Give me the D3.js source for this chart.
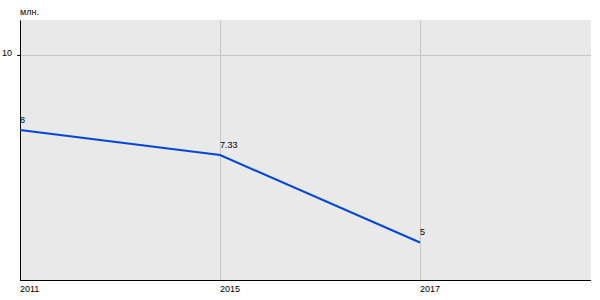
<!DOCTYPE html>
<html>
<head>
<meta charset="utf-8">
<script src="https://cdn.jsdelivr.net/npm/d3@7"></script>
<style>
  body { margin: 0; background: #fff; }
  text { font-family: "Liberation Sans", Arial, sans-serif; font-size: 9px; fill: #000; }
</style>
</head>
<body>
<svg id="chart"></svg>
<script>
const years = ["2011", "2015", "2017"];
const values = [8, 7.33, 5];
const valueLabels = ["8", "7.33", "5"];
const yTicks = [10];
const unitLabel = "млн.";

const width = 600;
const height = 300;
const margin = { top: 20, right: 9, bottom: 20, left: 20 };

const svg = d3.select("#chart").attr("width", width).attr("height", height);

// points sit 200px apart, the last slot is left empty
const xScale = d3
  .scalePoint()
  .domain(years)
  .range([margin.left, margin.left + 400]);

const yScale = d3
  .scaleLinear()
  .domain([4, 10.93])
  .range([height - margin.bottom, margin.top]);

// plot background
svg
  .append("rect")
  .attr("x", margin.left)
  .attr("y", margin.top)
  .attr("width", width - margin.left - margin.right)
  .attr("height", height - margin.top - margin.bottom)
  .attr("fill", "#e9e9e9");

// grid lines
svg
  .selectAll(".vgrid")
  .data(years.slice(1))
  .enter()
  .append("line")
  .attr("x1", (d) => xScale(d) + 0.5)
  .attr("x2", (d) => xScale(d) + 0.5)
  .attr("y1", margin.top)
  .attr("y2", height - margin.bottom)
  .attr("stroke", "#c6c6c6");

svg
  .selectAll(".hgrid")
  .data(yTicks)
  .enter()
  .append("line")
  .attr("x1", margin.left)
  .attr("x2", width - margin.right)
  .attr("y1", (d) => Math.round(yScale(d)) + 0.5)
  .attr("y2", (d) => Math.round(yScale(d)) + 0.5)
  .attr("stroke", "#c6c6c6");

// y axis
const yAxis = d3
  .axisLeft(yScale)
  .tickValues(yTicks)
  .tickFormat(d3.format("d"))
  .tickSize(3)
  .tickPadding(5)
  .tickSizeOuter(0);
const yG = svg
  .append("g")
  .attr("transform", `translate(${margin.left},0)`)
  .call(yAxis);
yG.select(".domain").attr("stroke", "#000");
yG.selectAll("text")
  .attr("dy", "0.05em")
  .style("font-family", "Liberation Sans, Arial, sans-serif")
  .style("font-size", "9px");

// x axis line
svg
  .append("line")
  .attr("x1", margin.left)
  .attr("x2", width - margin.right)
  .attr("y1", height - margin.bottom + 0.5)
  .attr("y2", height - margin.bottom + 0.5)
  .attr("stroke", "#000");

// x labels
svg
  .selectAll(".xlabel")
  .data(years)
  .enter()
  .append("text")
  .attr("x", (d) => xScale(d))
  .attr("y", height - margin.bottom + 12)
  .attr("text-anchor", "start")
  .text((d) => d);

// line
const line = d3
  .line()
  .x((d, i) => xScale(years[i]))
  .y((d) => yScale(d));

svg
  .append("path")
  .datum(values)
  .attr("d", line)
  .attr("fill", "none")
  .attr("stroke", "#0046e6")
  .attr("stroke-width", 2);

// value labels
svg
  .selectAll(".vlabel")
  .data(values)
  .enter()
  .append("text")
  .attr("x", (d, i) => xScale(years[i]))
  .attr("y", (d) => yScale(d) - 7)
  .text((d, i) => valueLabels[i]);

// unit label
svg
  .append("text")
  .attr("x", margin.left)
  .attr("y", 15)
  .text(unitLabel);
</script>
</body>
</html>
